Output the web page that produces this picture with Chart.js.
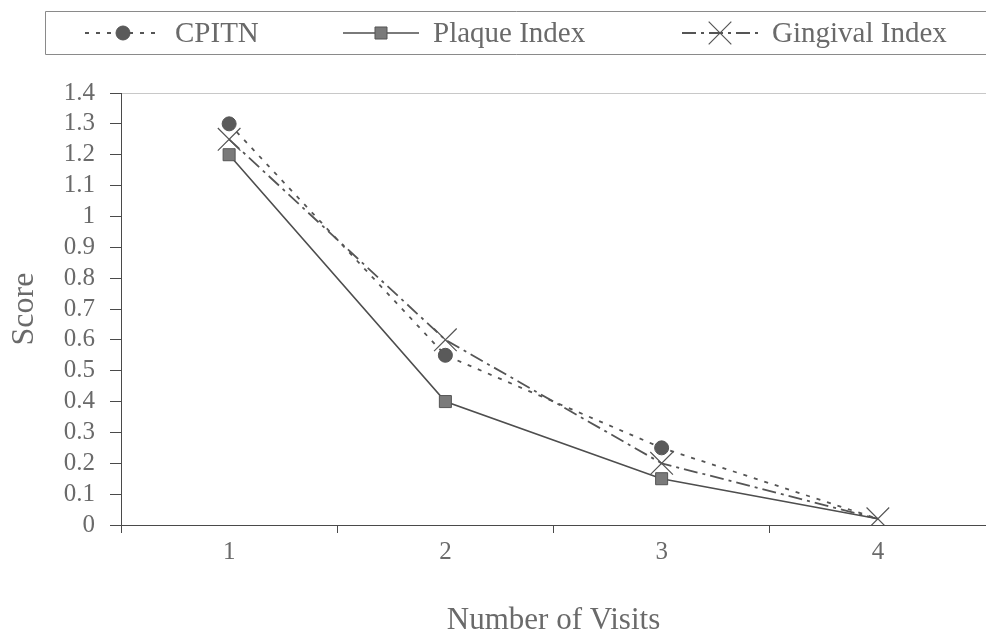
<!DOCTYPE html>
<html><head><meta charset="utf-8">
<script src="https://cdn.jsdelivr.net/npm/chart.js@4.4.1/dist/chart.umd.min.js"></script>
<style>html,body{margin:0;padding:0;background:#fff;overflow:hidden}#wrap{width:986px;height:636px}canvas{display:block}</style>
</head><body><div id="wrap"><canvas id="c" width="986" height="636"></canvas></div>
<script>
// ---- data ----
const visits = ['1', '2', '3', '4'];
const seriesNames = ['CPITN', 'Plaque Index', 'Gingival Index'];
const cpitn = [1.3, 0.55, 0.25, 0.02];
const plaque = [1.2, 0.4, 0.15, 0.02];
const gingival = [1.25, 0.6, 0.2, 0.02];
const yMin = 0, yMax = 1.4, yStep = 0.1;
const xTitle = 'Number of Visits';
const yTitle = 'Score';

const FONT = "'Liberation Serif', 'Times New Roman', serif";
const TEXT = '#6a6a6a';
const AXIS = '#4a4a4a';

const datasets = [
  {
    label: seriesNames[0], data: cpitn,
    borderColor: '#555', borderWidth: 1.8, borderDash: [4, 7],
    pointStyle: 'circle', pointRadius: [7, 7, 7, 0],
    pointBackgroundColor: '#5a5a5a', pointBorderColor: '#555', pointBorderWidth: 1
  },
  {
    label: seriesNames[1], data: plaque,
    borderColor: '#4e4e4e', borderWidth: 1.6, borderDash: [],
    pointStyle: 'rect', pointRadius: [8.5, 8.5, 8.5, 0],
    pointBackgroundColor: '#7a7a7a', pointBorderColor: '#555', pointBorderWidth: 1
  },
  {
    label: seriesNames[2], data: gingival,
    borderColor: '#555', borderWidth: 1.8, borderDash: [14, 5, 3, 5],
    pointStyle: 'crossRot', pointRadius: 16,
    pointBackgroundColor: '#555', pointBorderColor: '#555', pointBorderWidth: 1.2
  }
];

const chart = new Chart(document.getElementById('c'), {
  type: 'line',
  data: { labels: visits, datasets },
  options: {
    responsive: false,
    animation: false,
    devicePixelRatio: 1,
    layout: { autoPadding: false, padding: { top: 93, right: 0, left: 0, bottom: 0 } },
    plugins: { legend: { display: false }, tooltip: { enabled: false } },
    elements: { line: { tension: 0, fill: false } },
    scales: {
      x: {
        type: 'category',
        offset: true,
        grid: { offset: true, drawOnChartArea: false, tickLength: 8, tickColor: AXIS },
        border: { display: true, color: AXIS, width: 1 },
        ticks: { color: TEXT, font: { family: FONT, size: 25 }, padding: 4 },
        title: { display: true, text: xTitle, color: TEXT,
                 font: { family: FONT, size: 31, lineHeight: 1 }, padding: { top: 0, bottom: 0 } },
        afterFit(s) { s.height = 111; s.paddingLeft = 0; s.paddingRight = 0; }
      },
      y: {
        min: yMin, max: yMax,
        ticks: {
          stepSize: yStep, autoSkip: false, color: TEXT, font: { family: FONT, size: 25 }, padding: 15,
          callback: v => String(Number(v.toFixed(1)))
        },
        grid: {
          tickLength: 11, tickColor: AXIS,
          color: c => (c.index === c.scale.ticks.length - 1 ? '#c8c8c8' : 'rgba(0,0,0,0)')
        },
        border: { display: true, color: AXIS, width: 1 },
        title: { display: true, text: yTitle, color: TEXT,
                 font: { family: FONT, size: 32, lineHeight: 1 }, padding: { top: 9, bottom: 0 } },
        afterFit(s) { s.width = 121; }
      }
    }
  },
  plugins: [{
    id: 'legendFrame',
    afterDraw(chart) {
      const ctx = chart.ctx;
      ctx.save();
      ctx.strokeStyle = '#8a8a8a';
      ctx.lineWidth = 1;
      ctx.beginPath();
      ctx.moveTo(1000, 11.5); ctx.lineTo(45.5, 11.5); ctx.lineTo(45.5, 54.5); ctx.lineTo(1000, 54.5);
      ctx.stroke();
      const starts = [85, 343, 682];
      const cy = 33;
      chart.data.datasets.forEach((ds, i) => {
        const x0 = starts[i], w = 76;
        ctx.save();
        ctx.strokeStyle = ds.borderColor;
        ctx.lineWidth = ds.borderWidth;
        ctx.setLineDash(ds.borderDash || []);
        ctx.beginPath(); ctx.moveTo(x0, cy); ctx.lineTo(x0 + w, cy); ctx.stroke();
        ctx.restore();
        ctx.save();
        const r = Array.isArray(ds.pointRadius) ? ds.pointRadius[0] : ds.pointRadius;
        ctx.fillStyle = ds.pointBackgroundColor;
        ctx.strokeStyle = ds.pointBorderColor;
        ctx.lineWidth = ds.pointBorderWidth;
        ctx.setLineDash([]);
        Chart.helpers.drawPoint(ctx, { pointStyle: ds.pointStyle, radius: r, rotation: 0,
          borderWidth: ds.pointBorderWidth }, x0 + w / 2, cy);
        ctx.restore();
        ctx.fillStyle = TEXT;
        ctx.font = "29px " + FONT;
        ctx.textBaseline = 'middle';
        ctx.fillText(ds.label, x0 + w + 14, cy + 1);
      });
      ctx.restore();
    }
  }]
});
</script></body></html>
